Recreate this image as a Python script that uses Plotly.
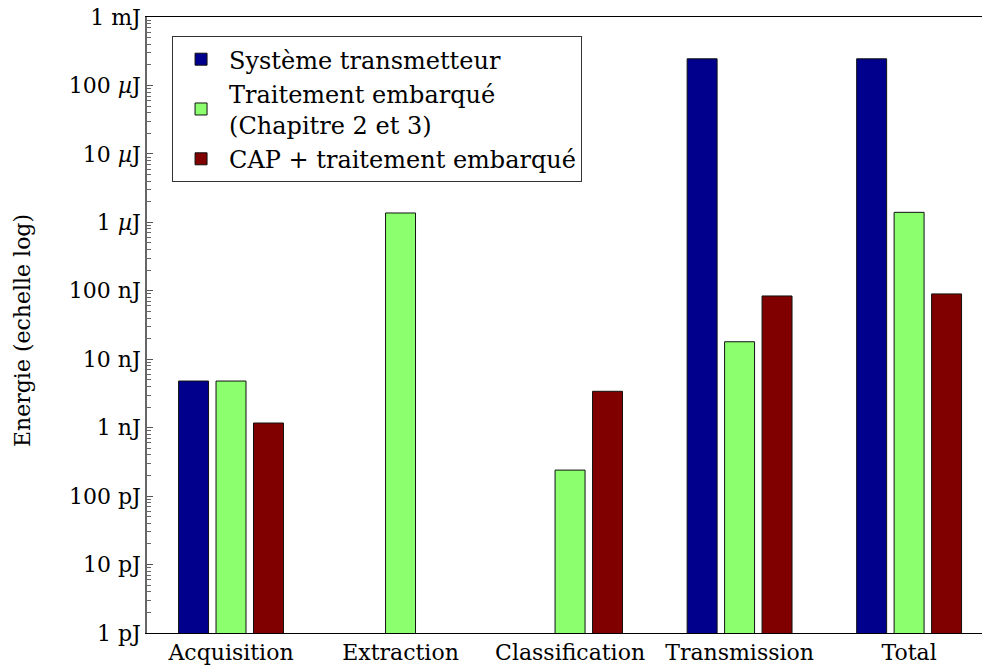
import plotly.graph_objects as go

categories = ["Acquisition", "Extraction", "Classification", "Transmission", "Total"]
series_names = ["Système transmetteur", "Traitement embarqué<br>(Chapitre 2 et 3)", "CAP + traitement embarqué"]
systeme_transmetteur = [4.8e-9, None, None, 2.45e-4, 2.45e-4]
traitement_embarque = [4.8e-9, 1.37e-6, 2.4e-10, 1.8e-8, 1.4e-6]
cap_traitement = [1.17e-9, None, 3.4e-9, 8.4e-8, 9.0e-8]
series_values = [systeme_transmetteur, traitement_embarque, cap_traitement]
series_colors = ["#00008c", "#8cff6e", "#800000"]

tick_values = [1e-12, 1e-11, 1e-10, 1e-9, 1e-8, 1e-7, 1e-6, 1e-5, 1e-4, 1e-3]
tick_labels = ["1 pJ", "10 pJ", "100 pJ", "1 nJ", "10 nJ", "100 nJ",
               "1 <i>µ</i>J", "10 <i>µ</i>J", "100 <i>µ</i>J", "1 mJ"]
y_title = "Energie (echelle log)"

FONT = "'DejaVu Serif', 'Liberation Serif', serif"

fig = go.Figure()
for name, vals, col in zip(series_names, series_values, series_colors):
    fig.add_trace(go.Bar(
        x=categories, y=vals, name=name,
        marker=dict(color=col, line=dict(color="#111111", width=1)),
    ))

fig.update_layout(
    width=982, height=668,
    margin=dict(l=147, r=0, t=17, b=35),
    paper_bgcolor="white", plot_bgcolor="white",
    barmode="group", bargap=0.337, bargroupgap=0.2,
    font=dict(family=FONT, size=22, color="black"),
    showlegend=True,
    legend=dict(
        x=0.03, y=0.969, xanchor="left", yanchor="top",
        bordercolor="#333333", borderwidth=1, bgcolor="white",
        font=dict(family=FONT, size=24, color="black"),
        itemwidth=46, tracegroupgap=0,
    ),
    annotations=[dict(
        text=y_title, textangle=-90, showarrow=False,
        xref="paper", yref="paper", x=0, y=0.5,
        xanchor="center", yanchor="middle", xshift=-125, yshift=-6,
        font=dict(family=FONT, size=22, color="black"),
    )],
)
fig.update_xaxes(
    range=[-0.4956, 4.43],
    showline=True, linecolor="black", linewidth=1, mirror=True,
    ticks="", showgrid=False, zeroline=False,
    tickfont=dict(family=FONT, size=22),
)
fig.update_yaxes(
    type="log", range=[-12, -3],
    tickmode="array", tickvals=tick_values, ticktext=tick_labels,
    ticks="inside", ticklen=6, tickcolor="#555555",
    minor=dict(ticks="inside", ticklen=4, tickcolor="#666666", dtick="D1", showgrid=False),
    showline=True, linecolor="#666666", linewidth=1.5,
    showgrid=False, zeroline=False,
    tickfont=dict(family=FONT, size=22),
)

fig.write_html("out.html", post_script="document.body.style.margin='0';",
               config={"displayModeBar": False})
